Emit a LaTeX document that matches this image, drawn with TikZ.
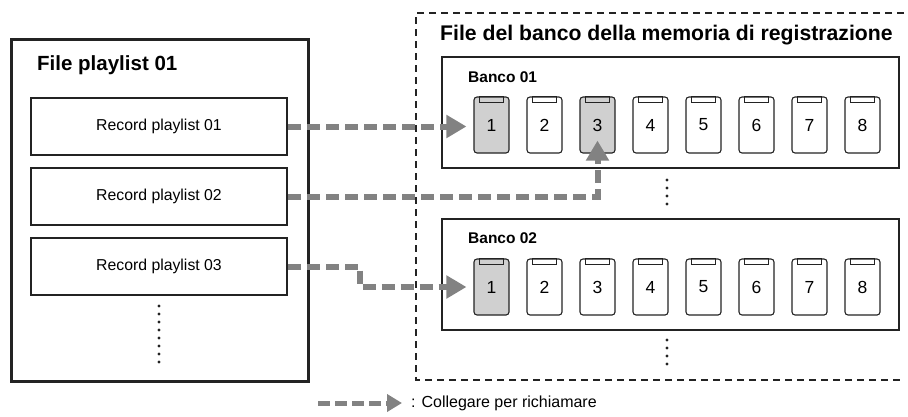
\documentclass[tikz,border=0pt]{standalone}
\usepackage{fontspec}
\setmainfont{Liberation Sans}
\definecolor{rgline}{RGB}{35,35,35}
\definecolor{rglink}{RGB}{130,130,130}
\definecolor{rgfill}{RGB}{208,208,208}
\usetikzlibrary{arrows.meta,positioning,calc}

\begin{document}
\begin{tikzpicture}[x=1pt,y=-1pt,
  outerbox/.style={draw=rgline,line width=2.5pt,minimum width=297pt,minimum height=342pt,anchor=north west},
  recbox/.style={draw=rgline,line width=2.2pt,minimum width=256pt,minimum height=57pt,font=\fontsize{15.8}{18}\selectfont},
  bankbox/.style={draw=rgline,line width=2.2pt,minimum width=457pt,minimum height=111pt},
  memkey/.style={draw=rgline,line width=1.1pt,rounded corners=3pt,minimum width=35pt,minimum height=56pt,font=\fontsize{17.5}{20}\selectfont},
  memon/.style={memkey,fill=rgfill},
  heading/.style={anchor=west,inner sep=0pt,font=\fontsize{20.5}{24}\selectfont\bfseries},
  banklabel/.style={anchor=west,inner sep=0pt,font=\fontsize{15.5}{18}\selectfont\bfseries},
  link/.style={draw=rglink,line width=6pt,dash pattern=on 13pt off 6pt,-{Triangle[length=20pt,width=22pt]}},
  dot/.style={fill=rgline}]
  \useasboundingbox (0,0) rectangle (908,416);
  \node[outerbox] (plfile) at (10,38) {};
  \node[heading] (pltitle) at (37,65) {File playlist 01};
  \node[recbox] (rec1) at (159,126.5) {Record playlist 01};
  \node[recbox] (rec2) at (159,196.5) {Record playlist 02};
  \node[recbox] (rec3) at (159,266.5) {Record playlist 03};
  \foreach \i in {0,...,7}
    \fill[dot] (159,306+8*\i) circle (1.6pt);
  \draw[rgline,line width=2.3pt,dash pattern=on 7pt off 5pt] (904,13) -- (416,13) -- (416,380) -- (904,380);
  \node[heading,font=\fontsize{21.2}{24}\selectfont\bfseries] (regtitle) at (440,35) {File del banco della memoria di registrazione};
  \node[bankbox] (bank1) at (670.5,112.5) {};
  \node[bankbox] (bank2) at (670.5,274.5) {};
  \node[banklabel] (bank1lbl) at (468,77) {Banco 01};
  \node[banklabel] (bank2lbl) at (468,238) {Banco 02};
  \foreach \n/\y in {1/125,2/287}
    \foreach \k in {1,...,8} {
      \ifnum\n\k=11 \def\keystyle{memon}\else\ifnum\n\k=13 \def\keystyle{memon}\else\ifnum\n\k=21 \def\keystyle{memon}\else\def\keystyle{memkey}\fi\fi\fi
      \node[\keystyle] (b\n-\k) at (491.5+53*\k-53,\y) {\k};
      \draw[rgline,line width=0.8pt] ([xshift=-12pt]b\n-\k.north) rectangle ([xshift=12pt,yshift=-6pt]b\n-\k.north);
    }
  \foreach \i in {0,...,3} {
    \fill[dot] (667,180+8*\i) circle (1.6pt);
    \fill[dot] (667,340+8*\i) circle (1.6pt);
  }
  \coordinate (knee) at (360,287);
  \draw[link,shorten >=7pt] (rec1.east) -- (rec1.east -| b1-1.west);
  \draw[link] (rec2.east) -| ([yshift=13pt]b1-3.south);
  \draw[link,shorten >=7pt] (rec3.east) -| (knee) -- (b2-1.west);
  \coordinate (legA) at (318,403);
  \coordinate (legB) at (402,403);
  \draw[link,line width=5pt,dash pattern=on 12pt off 5pt,-{Triangle[length=15pt,width=17pt]}] (legA) -- (legB);
  \node[anchor=west,inner sep=0pt,font=\fontsize{16}{18}\selectfont] (legtext) at (411,403) {: Collegare per richiamare};
\end{tikzpicture}
\end{document}
